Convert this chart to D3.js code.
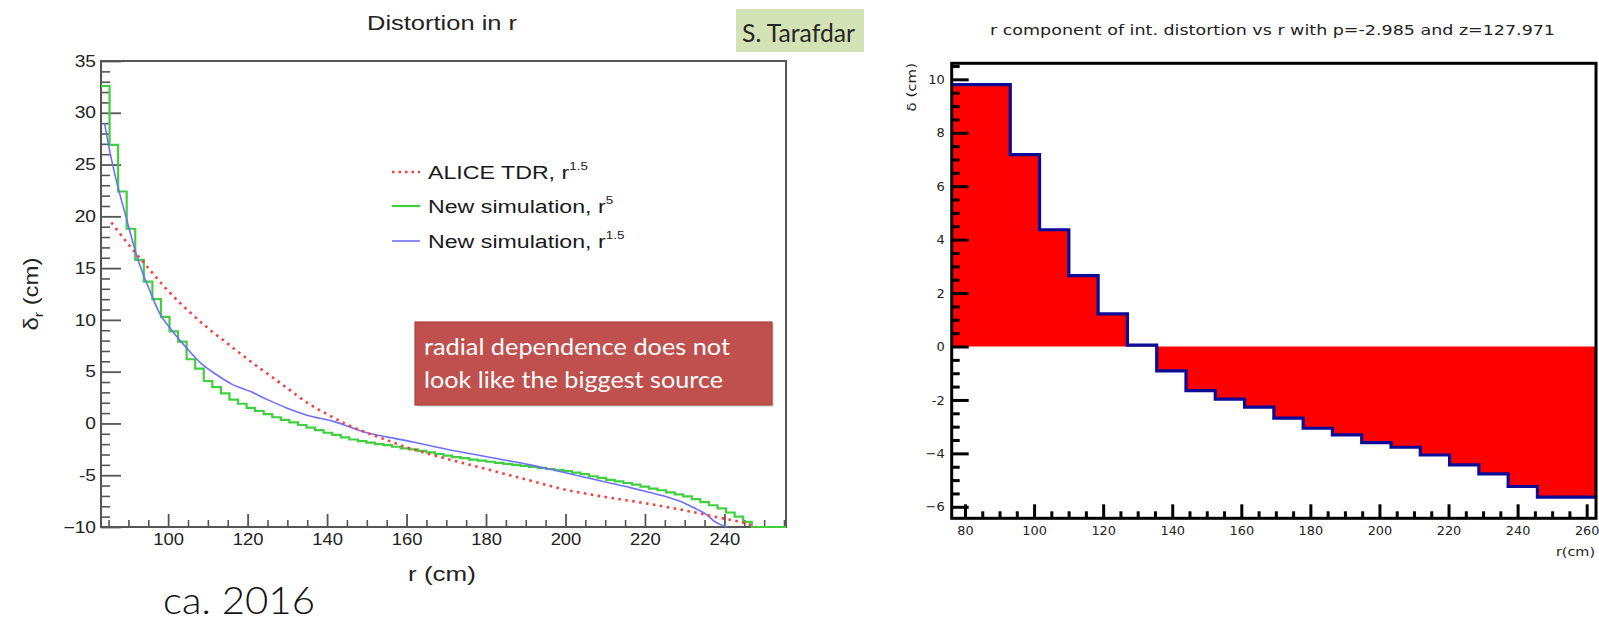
<!DOCTYPE html>
<html>
<head>
<meta charset="utf-8">
<script src="https://cdn.jsdelivr.net/npm/d3@7"></script>
<style>
  html, body { margin: 0; padding: 0; background: #fff; }
  svg { display: block; }
</style>
</head>
<body>
<svg id="chart" width="1599" height="624"></svg>
<script>
// ---------- Left panel: distortion in r, three models ----------
// ALICE TDR parametrisation (r^1.5)
const tdrR     = [85.7, 90, 95, 100, 105, 110, 115, 120, 125, 130, 135, 140, 145, 150, 155, 160, 170, 180, 190, 200, 210, 220, 230, 240, 245, 248];
const tdrDelta = [19.4, 17.3, 15.0, 12.8, 10.9, 9.2, 7.7, 6.2, 4.8, 3.4, 2.0, 0.9, -0.1, -0.9, -1.6, -2.3, -3.4, -4.4, -5.4, -6.4, -7.1, -7.7, -8.4, -9.2, -9.6, -10.0];

// New simulation, r^1.5 (smooth curve)
const simAR     = [84.0, 85.3, 87.0, 89.5, 92.0, 95.4, 97.9, 100.5, 104.6, 108.0, 112.2, 116.0, 120.6, 125.0, 129.8, 135.0, 141.6, 150.0, 155.0, 161.7, 170.1, 178.5, 185.0, 191.1, 197.0, 203.7, 210.0, 216.3, 221.0, 226.4, 230.0, 233.1, 235.5, 237.3, 240.7];
const simADelta = [29.0, 26.3, 23.4, 19.8, 16.3, 12.8, 10.6, 9.2, 7.3, 5.9, 4.7, 3.8, 3.1, 2.3, 1.5, 0.8, 0.2, -0.9, -1.3, -1.8, -2.5, -3.1, -3.55, -4.0, -4.5, -5.1, -5.65, -6.2, -6.65, -7.2, -7.7, -8.3, -8.8, -9.4, -10.0];

// New simulation, r^5 (histogram, 80 bins over the panel range)
const simBLow = 83.1, simBHigh = 255.5;
const simBDelta = [
  32.6, 26.9, 22.4, 18.8, 15.8, 13.7, 12.0, 10.3, 8.9, 7.9,
  6.2, 5.3, 4.1, 3.5, 2.9, 2.3, 1.9, 1.5, 1.2, 0.9,
  0.6, 0.35, 0.1, -0.15, -0.4, -0.65, -0.9, -1.1, -1.35, -1.55,
  -1.7, -1.85, -2.0, -2.1, -2.25, -2.4, -2.5, -2.65, -2.8, -2.95,
  -3.1, -3.25, -3.35, -3.5, -3.6, -3.7, -3.8, -3.9, -4.0, -4.1,
  -4.2, -4.3, -4.4, -4.5, -4.6, -4.75, -4.9, -5.1, -5.25, -5.45,
  -5.6, -5.75, -5.9, -6.1, -6.3, -6.45, -6.65, -6.85, -7.05, -7.3,
  -7.6, -7.9, -8.2, -8.6, -9.0, -9.5, -10.1, -10.6, -11.0, -11.5
];

const leftXDomain = [83.1, 255.5];
const leftYDomain = [-10, 35];
const leftXTicks = [100, 120, 140, 160, 180, 200, 220, 240];
const leftYTicks = [-10, -5, 0, 5, 10, 15, 20, 25, 30, 35];
const leftYTickLabels = ["\u221210", "-5", "0", "5", "10", "15", "20", "25", "30", "35"];

// ---------- Right panel: integrated distortion histogram ----------
const histLow = 76.15, histHigh = 262.7;
const histDelta = [9.8, 9.8, 7.18, 4.37, 2.65, 1.22, 0.05, -0.91, -1.65, -1.97, -2.27,
                   -2.68, -3.06, -3.31, -3.6, -3.77, -4.06, -4.43, -4.77, -5.24, -5.64, -5.64];
const rightYDomain = [-6.43, 10.6];
const rightXTicks = [80, 100, 120, 140, 160, 180, 200, 220, 240, 260];
const rightYTicks = [-6, -4, -2, 0, 2, 4, 6, 8, 10];
const rightYTickLabels = ["\u22126", "\u22124", "-2", "0", "2", "4", "6", "8", "10"];

// ---------- Drawing ----------
const svg = d3.select("#chart");
svg.append("rect").attr("width", 1599).attr("height", 624).attr("fill", "#fff");

function addText(parent, str, x, y, o) {
  let tr = `translate(${x},${y})`;
  if (o.rotate) tr += ` rotate(${o.rotate})`;
  if (o.sx) tr += ` scale(${o.sx},1)`;
  const t = parent.append("text")
    .attr("transform", tr)
    .attr("text-anchor", o.anchor || "start")
    .style("font-family", o.family || "'Liberation Sans', Arial, sans-serif")
    .style("font-size", o.size + "px")
    .style("font-weight", o.weight || 400)
    .attr("fill", o.fill || "#111");
  if (o.length) t.attr("textLength", o.length).attr("lengthAdjust", "spacingAndGlyphs");
  if (str !== null) t.text(str);
  return t;
}

function stretchTickLabels(g, sx) {
  g.selectAll(".tick text").each(function () {
    const t = d3.select(this);
    const x = +t.attr("x") || 0;
    const y = +t.attr("y") || 0;
    t.attr("x", 0).attr("y", 0).attr("transform", `translate(${x},${y}) scale(${sx},1)`);
  });
}

// ===== Left panel =====
const L = { x0: 101, x1: 786, y0: 61, y1: 527 };
const xL = d3.scaleLinear().domain(leftXDomain).range([L.x0, L.x1]);
const yL = d3.scaleLinear().domain(leftYDomain).range([L.y1, L.y0]).clamp(true);

const left = svg.append("g");
left.append("defs").append("clipPath").attr("id", "clipL")
  .append("rect").attr("x", L.x0).attr("y", L.y0 - 2).attr("width", L.x1 - L.x0).attr("height", L.y1 - L.y0 + 4);

const tickColor = "#555";
// frame
left.append("rect").attr("x", L.x0).attr("y", L.y0).attr("width", L.x1 - L.x0).attr("height", L.y1 - L.y0)
  .attr("fill", "none").attr("stroke", "#555").attr("stroke-width", 2);

// minor ticks
const lyMinor = d3.range(leftYDomain[0], leftYDomain[1] + 0.01, 1).filter(v => !leftYTicks.includes(v));
left.append("g").attr("transform", `translate(${L.x0},0)`)
  .call(d3.axisLeft(yL).tickValues(lyMinor).tickSize(-9).tickFormat(""))
  .call(g => g.select(".domain").remove())
  .call(g => g.selectAll("line").attr("stroke", tickColor).attr("stroke-width", 1.6));
const lxMinor = d3.range(85, 256, 5).filter(v => !leftXTicks.includes(v));
left.append("g").attr("transform", `translate(0,${L.y1})`)
  .call(d3.axisBottom(xL).tickValues(lxMinor).tickSize(-7).tickFormat(""))
  .call(g => g.select(".domain").remove())
  .call(g => g.selectAll("line").attr("stroke", tickColor).attr("stroke-width", 1.6));

// major ticks + labels
const gLY = left.append("g").attr("transform", `translate(${L.x0},0)`)
  .call(d3.axisLeft(yL).tickValues(leftYTicks).tickSize(-20).tickPadding(5)
        .tickFormat((d, i) => leftYTickLabels[i]))
  .call(g => g.select(".domain").remove())
  .call(g => g.selectAll("line").attr("stroke", tickColor).attr("stroke-width", 1.8))
  .call(g => g.selectAll("text").attr("fill", "#222")
        .style("font-family", "'Liberation Sans', Arial, sans-serif").style("font-size", "16px"));
stretchTickLabels(gLY, 1.2);

const gLX = left.append("g").attr("transform", `translate(0,${L.y1})`)
  .call(d3.axisBottom(xL).tickValues(leftXTicks).tickSize(-13).tickPadding(7))
  .call(g => g.select(".domain").remove())
  .call(g => g.selectAll("line").attr("stroke", tickColor).attr("stroke-width", 1.8))
  .call(g => g.selectAll("text").attr("fill", "#222")
        .style("font-family", "'Liberation Sans', Arial, sans-serif").style("font-size", "16px"));
stretchTickLabels(gLX, 1.15);

// curves (drawn over the frame, as the clamped histogram runs along the bottom edge)
const plotL = left.append("g").attr("clip-path", "url(#clipL)");
const simBWidth = (simBHigh - simBLow) / simBDelta.length;
const simBPts = simBDelta.map((v, i) => [simBLow + i * simBWidth, v]);
simBPts.push([simBHigh, simBDelta[simBDelta.length - 1]]);
plotL.append("path")
  .attr("d", d3.line().x(d => xL(d[0])).y(d => yL(d[1])).curve(d3.curveStepAfter)(simBPts))
  .attr("fill", "none").attr("stroke", "#3fcf3f").attr("stroke-width", 2.2);

plotL.append("path")
  .attr("d", d3.line().x(d => xL(d[0])).y(d => yL(d[1])).curve(d3.curveMonotoneX)(simAR.map((r, i) => [r, simADelta[i]])))
  .attr("fill", "none").attr("stroke", "#6f6fff").attr("stroke-width", 1.6);

plotL.append("path")
  .attr("d", d3.line().x(d => xL(d[0])).y(d => yL(d[1])).curve(d3.curveMonotoneX)(tdrR.map((r, i) => [r, tdrDelta[i]])))
  .attr("fill", "none").attr("stroke", "#ff3a3a").attr("stroke-width", 2.6)
  .attr("stroke-dasharray", "2.5,4.5");

// title and axis titles
addText(svg, "Distortion in r", 367, 30, { size: 20, length: 150, fill: "#222" });
addText(svg, "r (cm)", 442, 581, { size: 20, anchor: "middle", sx: 1.3, fill: "#222" });
const yTitle = addText(svg, null, 38, 294, { size: 20, anchor: "middle", rotate: -90, sx: 1.2, fill: "#222" });
yTitle.append("tspan").text("\u03b4");
yTitle.append("tspan").attr("dy", 5).style("font-size", "13px").text("r");
yTitle.append("tspan").attr("dy", -5).text(" (cm)");

// legend
const legendItems = [
  { label: "ALICE TDR, r", sup: "1.5", color: "#ff3a3a", width: 2.6, dash: "2.5,4" },
  { label: "New simulation, r", sup: "5", color: "#3fcf3f", width: 2.2, dash: null },
  { label: "New simulation, r", sup: "1.5", color: "#6f6fff", width: 1.6, dash: null }
];
const legendBaselines = [179, 213, 248];
legendItems.forEach((it, i) => {
  const yb = legendBaselines[i];
  const ln = svg.append("line").attr("x1", 392).attr("x2", 420).attr("y1", yb - 7).attr("y2", yb - 7)
    .attr("stroke", it.color).attr("stroke-width", it.width);
  if (it.dash) ln.attr("stroke-dasharray", it.dash);
  const t = addText(svg, null, 428, yb, { size: 19, sx: 1.22, fill: "#1a1a1a" });
  t.append("tspan").text(it.label);
  t.append("tspan").attr("dy", -9).style("font-size", "11px").text(it.sup);
});

// annotation box
svg.append("rect").attr("x", 417).attr("y", 324).attr("width", 357).attr("height", 83)
  .attr("fill", "rgba(0,0,0,0.12)");
svg.append("rect").attr("x", 415).attr("y", 322).attr("width", 357).attr("height", 83)
  .attr("fill", "#c0504d").attr("stroke", "#a8403d").attr("stroke-width", 1.2);
addText(svg, "radial dependence does not", 424, 355, { family: "Lato, 'Open Sans', sans-serif", size: 24, length: 306, fill: "#fff" });
addText(svg, "look like the biggest source", 424, 388, { family: "Lato, 'Open Sans', sans-serif", size: 24, length: 299, fill: "#fff" });

// author tag
svg.append("rect").attr("x", 736).attr("y", 9).attr("width", 128).attr("height", 43).attr("fill", "#d4e3b5");
addText(svg, "S. Tarafdar", 742, 42, { family: "Lato, 'Open Sans', sans-serif", size: 25, length: 113, fill: "#262626" });

// date note
addText(svg, "ca. 2016", 163, 614, { family: "Lato, 'Liberation Sans', sans-serif", weight: 300, size: 38, length: 152, fill: "#111" });

// ===== Right panel =====
const R = { x0: 951.7, x1: 1596, y0: 63.3, y1: 518.3 };
const xR = d3.scaleLinear().domain([histLow, histHigh]).range([R.x0, R.x1]);
const yR = d3.scaleLinear().domain(rightYDomain).range([R.y1, R.y0]);
const right = svg.append("g");

const histWidth = (histHigh - histLow) / histDelta.length;
const histPts = histDelta.map((v, i) => [histLow + i * histWidth, v]);
histPts.push([histHigh, histDelta[histDelta.length - 1]]);

right.append("path")
  .attr("d", d3.area().x(d => xR(d[0])).y0(yR(0)).y1(d => yR(d[1])).curve(d3.curveStepAfter)(histPts))
  .attr("fill", "#ff0000");
right.append("path")
  .attr("d", d3.line().x(d => xR(d[0])).y(d => yR(d[1])).curve(d3.curveStepAfter)(histPts))
  .attr("fill", "none").attr("stroke", "#0b0b98").attr("stroke-width", 3.2);

// minor ticks
const ryMinor = d3.range(-6, 10.51, 0.5).filter(v => !rightYTicks.includes(v));
right.append("g").attr("transform", `translate(${R.x0},0)`)
  .call(d3.axisLeft(yR).tickValues(ryMinor).tickSize(-8).tickFormat(""))
  .call(g => g.select(".domain").remove())
  .call(g => g.selectAll("line").attr("stroke", "#000").attr("stroke-width", 3));
const rxMinor = d3.range(80, 261, 5).filter(v => !rightXTicks.includes(v));
right.append("g").attr("transform", `translate(0,${R.y1})`)
  .call(d3.axisBottom(xR).tickValues(rxMinor).tickSize(-7).tickFormat(""))
  .call(g => g.select(".domain").remove())
  .call(g => g.selectAll("line").attr("stroke", "#000").attr("stroke-width", 3));

const gRY = right.append("g").attr("transform", `translate(${R.x0},0)`)
  .call(d3.axisLeft(yR).tickValues(rightYTicks).tickSize(-17).tickPadding(7)
        .tickFormat((d, i) => rightYTickLabels[i]))
  .call(g => g.select(".domain").remove())
  .call(g => g.selectAll("line").attr("stroke", "#000").attr("stroke-width", 3))
  .call(g => g.selectAll("text").attr("fill", "#222")
        .style("font-family", "'DejaVu Sans', sans-serif").style("font-size", "13px"));
stretchTickLabels(gRY, 1.0);

const gRX = right.append("g").attr("transform", `translate(0,${R.y1})`)
  .call(d3.axisBottom(xR).tickValues(rightXTicks).tickSize(-14).tickPadding(8))
  .call(g => g.select(".domain").remove())
  .call(g => g.selectAll("line").attr("stroke", "#000").attr("stroke-width", 3))
  .call(g => g.selectAll("text").attr("fill", "#222")
        .style("font-family", "'DejaVu Sans', sans-serif").style("font-size", "12.5px"));
stretchTickLabels(gRX, 1.03);

right.append("rect").attr("x", R.x0).attr("y", R.y0).attr("width", R.x1 - R.x0).attr("height", R.y1 - R.y0)
  .attr("fill", "none").attr("stroke", "#000").attr("stroke-width", 3);

addText(svg, "r component of int. distortion vs r with p=-2.985 and z=127.971", 990, 35,
  { family: "'DejaVu Sans', sans-serif", size: 14, length: 565, fill: "#222" });
addText(svg, "r(cm)", 1595, 556, { family: "'DejaVu Sans', sans-serif", size: 12, anchor: "end", sx: 1.2, fill: "#222" });
addText(svg, "\u03b4 (cm)", 916, 63, { family: "'DejaVu Sans', sans-serif", size: 12, anchor: "end", rotate: -90, sx: 1.25, fill: "#222" });
</script>
</body>
</html>
